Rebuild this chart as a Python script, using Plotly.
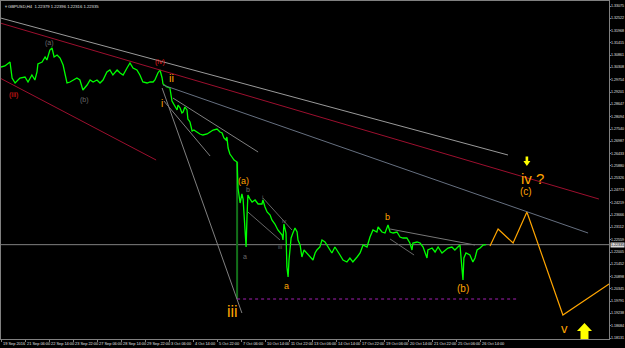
import plotly.graph_objects as go

# ---------------- data ----------------
bars = [0, 1.3, 3.0, 3.7, 4.7, 6.3, 8.0, 9.0, 10.3, 11.3, 12.0, 12.3, 13.7, 14.7, 15.3, 16.3, 17.0, 17.7,
        18.7, 19.7, 20.7, 21.3, 22.0, 23.0, 24.0, 25.3, 26.3, 27.0, 27.3, 28.7, 29.7, 30.7, 32.0, 33.0,
        34.0, 35.3, 36.3, 37.3, 38.7, 39.7, 40.7, 42.0, 43.0, 44.0, 45.3, 46.3, 47.3, 48.7, 49.7, 50.7,
        51.3, 52.3, 53.0, 53.7, 54.0, 55.3, 56.3, 57.0, 57.7, 58.7, 59.0, 59.7, 60.3, 60.7, 61.3, 62.0,
        62.3, 63.0, 63.7, 64.3, 65.3, 66.3, 67.3, 68.7, 69.7, 70.7, 72.0, 73.0, 73.7, 74.3, 75.0, 75.3,
        75.7, 76.3, 77.0, 77.7, 78.7, 79.0, 79.7, 80.3, 80.7, 81.3, 81.7, 82.0, 82.3, 83.0, 83.7, 84.7,
        85.7, 87.0, 87.3, 88.0, 88.7, 89.7, 90.3, 91.3, 92.3, 93.7, 94.0, 94.3, 95.0, 95.3, 95.7, 96.0,
        96.7, 97.3, 98.0, 98.7, 99.0, 99.7, 100.3, 101.0, 102.0, 103.0, 104.0, 104.7, 105.3, 106.3, 107.0,
        108.0, 109.0, 110.3, 111.3, 112.0, 113.0, 114.0, 115.3, 116.3, 117.3, 118.7, 119.7, 120.7, 122.0,
        123.0, 124.0, 125.3, 125.7, 127.0, 128.0, 129.0, 129.7, 130.7, 132.0, 133.0, 134.0, 135.3, 136.3,
        137.0, 137.3, 138.7, 139.7, 140.7, 142.0, 142.3, 143.7, 144.7, 145.7, 147.0, 148.0, 149.0, 150.3,
        151.3, 152.3, 153.0, 153.7, 154.0, 154.3, 155.0, 156.3, 157.3, 158.0, 158.7, 159.7, 160.7, 161.7]
closes = [1.3033, 1.30375, 1.30555, 1.29835, 1.2961, 1.29835, 1.2988, 1.29655, 1.2997, 1.29745, 1.30105,
          1.30465, 1.30555, 1.3078, 1.30645, 1.31095, 1.31185, 1.3078, 1.3087, 1.30735, 1.3042, 1.2997,
          1.2961, 1.29655, 1.29745, 1.29835, 1.29745, 1.29385, 1.29295, 1.2952, 1.29745, 1.29655, 1.29745,
          1.2961, 1.29745, 1.30105, 1.30195, 1.2997, 1.30195, 1.3006, 1.2997, 1.30285, 1.3051, 1.30285,
          1.30195, 1.2997, 1.29655, 1.2961, 1.29655, 1.29655, 1.29745, 1.3006, 1.30195, 1.29835, 1.29565,
          1.2943, 1.29385, 1.288, 1.2862, 1.28395, 1.2862, 1.28485, 1.2826, 1.28305, 1.2853, 1.28395,
          1.2799, 1.27855, 1.2745, 1.27495, 1.27405, 1.27315, 1.2727, 1.27315, 1.27405, 1.27495, 1.2754,
          1.27405, 1.2736, 1.27135, 1.27045, 1.2718, 1.26685, 1.26415, 1.2628, 1.26145, 1.26055, 1.24885,
          1.2421, 1.24615, 1.2439, 1.2322, 1.2223, 1.2358, 1.2457, 1.2439, 1.24255, 1.24345, 1.24165,
          1.24165, 1.24345, 1.2403, 1.23805, 1.2367, 1.23445, 1.23265, 1.22995, 1.2277, 1.22545, 1.23265,
          1.2286, 1.2133, 1.2088, 1.21645, 1.22635, 1.2286, 1.23085, 1.22905, 1.22545, 1.2232, 1.2178,
          1.22095, 1.2196, 1.2178, 1.21645, 1.2196, 1.22095, 1.2223, 1.22545, 1.22455, 1.2223, 1.2196,
          1.2223, 1.22095, 1.2187, 1.21645, 1.21555, 1.21735, 1.21555, 1.2178, 1.2196, 1.2232, 1.2223,
          1.2268, 1.22995, 1.22905, 1.2313, 1.22905, 1.2286, 1.2322, 1.22905, 1.2286, 1.22905, 1.2268,
          1.22635, 1.22635, 1.2241, 1.22095, 1.2241, 1.22455, 1.2241, 1.2223, 1.21735, 1.22095, 1.22185,
          1.22005, 1.2223, 1.2196, 1.22095, 1.22185, 1.2223, 1.22095, 1.2223, 1.2232, 1.21195, 1.20745,
          1.21735, 1.2196, 1.2187, 1.21555, 1.21735, 1.22095, 1.22185, 1.2232, 1.22335]

proj_bars = [163.0, 165.7, 170.7, 175.3, 187.3, 202.7]
proj_prices = [1.22275, 1.2304, 1.2241, 1.23805, 1.1917, 1.20565]

current_price = 1.22335
header = "GBPUSD,H4  1.22379 1.22396 1.22316 1.22335"

date_ticks = [0, 8, 16, 24, 32, 40, 48, 56, 64, 72, 80, 88, 96, 104, 112, 120, 128, 136, 144, 152, 160]
date_labels = ["19 Sep 2016", "21 Sep 06:00", "22 Sep 14:00", "23 Sep 22:00", "27 Sep 06:00",
               "28 Sep 14:00", "29 Sep 22:00", "3 Oct 06:00", "4 Oct 14:00", "5 Oct 22:00",
               "7 Oct 06:00", "10 Oct 14:00", "11 Oct 22:00", "13 Oct 06:00", "14 Oct 14:00",
               "17 Oct 22:00", "19 Oct 06:00", "20 Oct 14:00", "21 Oct 22:00", "25 Oct 06:00",
               "26 Oct 14:00"]

price_labels = ["1.33075", "1.32522", "1.31968", "1.31415", "1.30861", "1.30308", "1.29754", "1.29201",
                "1.28647", "1.28094", "1.27540", "1.26987", "1.26433", "1.25880", "1.25326", "1.24773",
                "1.24219", "1.23666", "1.23112", "1.22559", "1.22005", "1.21452", "1.20898", "1.20345",
                "1.19791", "1.19238", "1.18684", "1.18131"]
price_ticks = [float(s) for s in price_labels]

# trend lines drawn on the chart: (bar0, price0, bar1, price1, colour)
trend_lines = [
    (-0.3, 1.3254, 169.0, 1.2637, "#9a9a9a"),
    (-0.3, 1.3231, 199.3, 1.2439, "#9c0f2e"),
    (-0.3, 1.2983, 51.7, 1.26145, "#9c0f2e"),
    (54.0, 1.2952, 195.7, 1.2286, "#667080"),
    (57.3, 1.28935, 85.7, 1.26505, "#808080"),
    (53.7, 1.29385, 80.3, 1.1926, "#808080"),
    (54.3, 1.2880, 69.7, 1.26325, "#808080"),
    (82.3, 1.23805, 93.0, 1.22545, "#666666"),
    (87.3, 1.24435, 97.0, 1.22995, "#666666"),
    (129.7, 1.2304, 158.0, 1.2232, "#777777"),
    (129.7, 1.2259, 137.7, 1.2187, "#666666"),
]
iii_low = 1.1989
crash_bar = 78.7
crash_top = 1.26055

# wave labels: (text, bar, price, colour, size)
ORANGE = "#ffa500"
RED = "#e01b1b"
GREY = "#6a6a6a"
wave_labels = [
    ("(iii)", 4.0, 1.2907, RED, 7),
    ("(a)", 16.3, 1.3141, GREY, 7),
    ("(b)", 27.7, 1.28845, GREY, 7),
    ("(iv)", 53.0, 1.30555, RED, 7),
    ("ii", 56.7, 1.29835, ORANGE, 11),
    ("i", 53.7, 1.2871, ORANGE, 10),
    ("b", 82.3, 1.2484, GREY, 7),
    ("a", 81.3, 1.21825, GREY, 7),
    ("i", 87.3, 1.2448, GREY, 6),
    ("iv", 94.3, 1.2340, GREY, 6),
    ("iii", 93.0, 1.2223, GREY, 6),
    ("a", 95.3, 1.20475, ORANGE, 9),
    ("b", 128.7, 1.2358, ORANGE, 9),
    ("(b)", 154.0, 1.20385, ORANGE, 10),
    ("iii", 77.3, 1.1935, ORANGE, 16),
    ("iv ?", 177.3, 1.25335, ORANGE, 15),
    ("(c)", 175.0, 1.2475, ORANGE, 10),
    ("v", 187.7, 1.1855, ORANGE, 13),
    ("(a)", 80.8, 1.2520, ORANGE, 9),
]

# ---------------- figure ----------------
X_PER_PX = 1 / 3.0
Y_PER_PX = 0.00045
FONT = "Liberation Sans, Arial"
AXIS_TXT = "#e0e0e0"

fig = go.Figure()
fig.add_trace(go.Scatter(x=bars, y=closes, mode="lines",
                         line=dict(color="#00ff00", width=1.3), hoverinfo="skip"))
fig.add_trace(go.Scatter(x=proj_bars, y=proj_prices, mode="lines",
                         line=dict(color=ORANGE, width=1.2), hoverinfo="skip"))

shapes = []
for (x0, y0, x1, y1, c) in trend_lines:
    shapes.append(dict(type="line", xref="x", yref="y", x0=x0, y0=y0, x1=x1, y1=y1,
                       line=dict(color=c, width=1)))
shapes.append(dict(type="line", xref="paper", yref="y", x0=0, x1=1, y0=current_price, y1=current_price,
                   layer="below", line=dict(color="#808080", width=1)))
shapes.append(dict(type="line", xref="x", yref="y", x0=crash_bar, x1=172.0, y0=iii_low, y1=iii_low,
                   line=dict(color="#a020b0", width=1, dash="dot")))
shapes.append(dict(type="line", xref="x", yref="y", x0=crash_bar, x1=crash_bar, y0=crash_top, y1=iii_low,
                   layer="below", line=dict(color="#13701a", width=2)))


def arrow_path(bx, py, pts):
    s = ""
    for i, (dx, dy) in enumerate(pts):
        s += ("M" if i == 0 else "L") + f"{bx + dx * X_PER_PX},{py - dy * Y_PER_PX} "
    return s + "Z"


up_pts = [(0, 0), (7.5, 8), (4, 8), (4, 16.5), (-4, 16.5), (-4, 8), (-7.5, 8)]
down_pts = [(0, 0), (3.5, -5), (1.3, -5), (1.3, -9.5), (-1.3, -9.5), (-1.3, -5), (-3.5, -5)]
shapes.append(dict(type="path", xref="x", yref="y", path=arrow_path(194.5, 1.1881, up_pts),
                   fillcolor="#ffff00", line=dict(width=0)))
shapes.append(dict(type="path", xref="x", yref="y", path=arrow_path(175.3, 1.25875, down_pts),
                   fillcolor="#ffff00", line=dict(width=0)))

annotations = []
for (t, bx, py, c, s) in wave_labels:
    annotations.append(dict(text=t, x=bx, y=py, xref="x", yref="y", showarrow=False,
                            font=dict(color=c, size=s, family=FONT), borderpad=0,
                            xanchor="center", yanchor="middle"))
# date labels along the bottom, left-aligned at each tick
for tv, tl in zip(date_ticks, date_labels):
    annotations.append(dict(text=tl, x=tv, y=0, xref="x", yref="paper", showarrow=False,
                            xanchor="left", yanchor="top", yshift=-1, xshift=0.5, borderpad=0,
                            font=dict(color=AXIS_TXT, size=3.9, family=FONT)))
# price labels on the right, left-aligned just past the axis
for tv, tl in zip(price_ticks, price_labels):
    annotations.append(dict(text=tl, x=1, y=tv, xref="paper", yref="y", showarrow=False,
                            xanchor="left", yanchor="middle", xshift=0.5, borderpad=0,
                            font=dict(color=AXIS_TXT, size=3.6, family=FONT)))
annotations.append(dict(text="\u25bc", x=0.002, y=0.997, xref="paper", yref="paper", showarrow=False,
                        xanchor="left", yanchor="top", font=dict(color="#a0a0a0", size=4)))
annotations.append(dict(text=header, x=0.009, y=0.997, xref="paper", yref="paper", showarrow=False,
                        xanchor="left", yanchor="top",
                        font=dict(color=AXIS_TXT, size=4.2, family=FONT)))
annotations.append(dict(text=f"{current_price:.5f}", x=1, y=current_price, xref="paper", yref="y",
                        showarrow=False, xanchor="left", yanchor="middle", xshift=0.5,
                        bgcolor="#d8d8d8", borderpad=0,
                        font=dict(color="#000000", size=3.6, family=FONT)))

fig.update_layout(
    width=625, height=348,
    margin=dict(l=1, r=16, t=1, b=9),
    paper_bgcolor="#000000", plot_bgcolor="#000000",
    showlegend=False, hovermode=False,
    shapes=shapes, annotations=annotations,
    xaxis=dict(range=[0, 202.67], showgrid=False, zeroline=False, automargin=False,
               showline=True, linecolor="#808080", linewidth=1, mirror=True,
               tickmode="array", tickvals=date_ticks, showticklabels=False,
               ticks="outside", ticklen=2, tickcolor="#808080"),
    yaxis=dict(range=[1.1809, 1.333], side="right", showgrid=False, zeroline=False, automargin=False,
               showline=True, linecolor="#808080", linewidth=1, mirror=True,
               tickmode="array", tickvals=price_ticks, showticklabels=False,
               ticks="outside", ticklen=1, tickcolor="#808080"),
)

fig.write_html("out.html")
